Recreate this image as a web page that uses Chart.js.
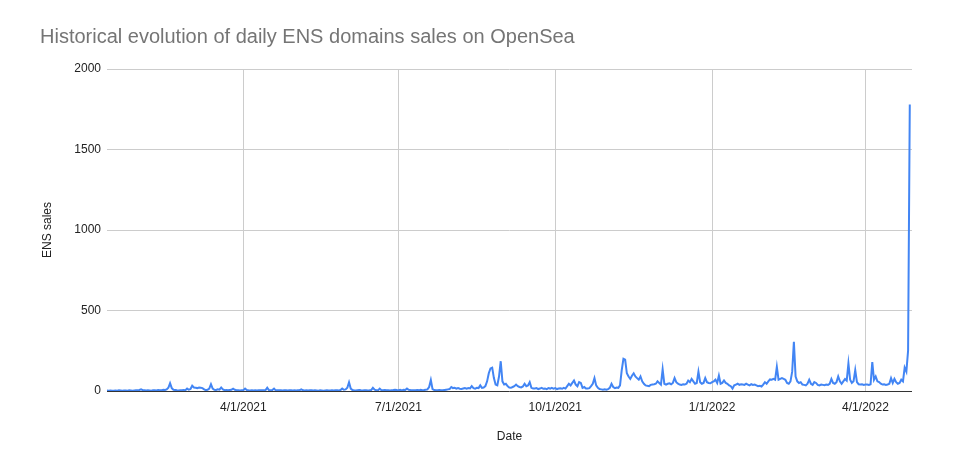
<!DOCTYPE html>
<html>
<head>
<meta charset="utf-8">
<script src="https://cdn.jsdelivr.net/npm/chart.js@4.4.1/dist/chart.umd.min.js"></script>
<style>
  html, body { margin: 0; padding: 0; background: #fff; }
  canvas { display: block; }
</style>
</head>
<body>
<canvas id="chart" width="969" height="451"></canvas>
<script>
const chartTitle = "Historical evolution of daily ENS domains sales on OpenSea"
const xAxisTitle = "Date"
const yAxisTitle = "ENS sales"

// first day of the series, then one value per day
const firstDay = "1/11/2021"
const dateTicks = ["4/1/2021", "7/1/2021", "10/1/2021", "1/1/2022", "4/1/2022"]
const salesTicks = [0, 500, 1000, 1500, 2000]

const dailySales = [
    3,
    2, 3, 2, 1, 3, 2, 4, 3, 2, 3,
    3, 2, 4, 3, 2, 3, 4, 5, 6, 10,
    5, 4, 3, 4, 3, 2, 5, 4, 3, 6,
    5, 4, 8, 6, 10, 20, 48, 18, 8, 6,
    4, 3, 5, 4, 6, 5, 15, 8, 12, 33,
    22, 20, 18, 22, 20, 18, 10, 5, 8, 15,
    42, 15, 8, 6, 10, 8, 22, 10, 5, 6,
    4, 6, 8, 15, 8, 5, 4, 3, 4, 5,
    15, 6, 4, 3, 5, 3, 4, 3, 5, 4,
    5, 4, 6, 20, 5, 4, 6, 15, 4, 5,
    4, 5, 3, 4, 5, 3, 4, 5, 3, 4,
    3, 4, 5, 10, 4, 3, 4, 3, 5, 4,
    3, 4, 3, 2, 4, 3, 2, 3, 4, 3,
    3, 4, 3, 5, 4, 3, 6, 15, 8, 10,
    20, 54, 15, 6, 4, 3, 5, 6, 4, 3,
    4, 5, 3, 4, 6, 20, 8, 5, 4, 15,
    5, 4, 6, 5, 4, 3, 5, 6, 8, 6,
    5, 7, 4, 8, 6, 15, 8, 6, 5, 4,
    5, 6, 4, 7, 5, 6, 8, 10, 25, 68,
    12, 6, 5, 4, 6, 5, 4, 6, 8, 10,
    12, 25, 18, 20, 15, 18, 14, 12, 15, 18,
    14, 18, 16, 30, 18, 15, 20, 18, 35, 20,
    22, 30, 60, 110, 140, 145, 80, 40, 35, 90,
    185, 60, 40, 45, 30, 22, 20, 25, 30, 40,
    30, 25, 22, 28, 45, 30, 35, 55, 20, 15,
    16,
    18, 12, 15, 20, 14, 16, 12, 18, 15, 20,
    14, 18, 12, 15, 17, 14, 20, 15, 30, 45,
    35, 50, 65, 40, 30, 55, 50, 20, 25, 15,
    15, 18, 30, 45, 80, 35, 20, 12, 10, 8,
    10, 8, 12, 20, 45, 25, 18, 22, 20, 35,
    130, 200, 195, 110, 90, 75, 95, 110, 90, 80,
    70, 90, 60, 45, 35, 32, 30, 38, 40, 42,
    45, 60, 50, 40, 135, 45, 40, 45, 48, 42,
    50, 80, 55, 45, 40, 38, 42, 40, 45, 65,
    55, 75, 60, 45, 50, 120, 55, 45, 50, 80,
    55, 50, 48, 55, 60, 70, 50, 95, 45, 50,
    65, 50, 45, 35, 30, 15, 35, 40, 45, 38,
    42, 40, 38, 45, 40, 35, 42, 38, 40, 35,
    30, 32, 28, 40, 55, 45, 60, 72, 70, 75,
    70, 150, 70, 75, 80, 75, 70, 50, 45, 60,
    120, 305, 90, 60, 50, 55, 40, 38, 35, 45,
    70, 45, 38, 55, 50, 38, 35, 40, 38, 36,
    40, 38, 45, 75, 50, 45, 55, 90, 60, 45,
    60, 75, 65, 172, 70, 50, 60, 130, 55, 42,
    40, 42, 38, 40, 40, 38, 42, 180, 70, 90,
    60, 55, 45, 40, 42, 38, 40, 45, 80, 50,
    75, 55, 45, 50, 70, 60, 145, 120, 250, 1780
]

function parseDay(s) {
    let [m, d, y] = s.split("/").map(Number)
    return new Date(y, m - 1, d)
}

function dayIndex(s) {
    return Math.round((parseDay(s) - parseDay(firstDay)) / 86400000)
}

const tickDays = dateTicks.map(dayIndex)
const font = { family: "'Liberation Sans', Arial, sans-serif", size: 12 }

window.onload = () => {
    new Chart(document.getElementById("chart"), {
        type: 'line',
        data: {
            datasets: [{
                label: yAxisTitle,
                data: dailySales.map((v, i) => ({ x: i, y: v })),
                borderColor: '#4285f4',
                borderWidth: 2,
                pointRadius: 0,
                tension: 0,
                fill: false
            }]
        },
        options: {
            responsive: false,
            animation: false,
            layout: { padding: { left: 40, right: 57, top: 0, bottom: 7 } },
            plugins: {
                legend: { display: false },
                tooltip: { enabled: false },
                title: {
                    display: true,
                    text: chartTitle,
                    align: 'start',
                    color: '#757575',
                    font: { family: font.family, size: 20, weight: 'normal' },
                    padding: { top: 25, bottom: 20 }
                }
            },
            scales: {
                x: {
                    type: 'linear',
                    min: 0,
                    max: dailySales.length + 0.3,
                    afterBuildTicks: s => { s.ticks = tickDays.map(v => ({ value: v })) },
                    afterFit: s => { s.height = 53 },
                    ticks: {
                        callback: (v, i) => dateTicks[i],
                        color: '#222',
                        font: font,
                        padding: 9,
                        maxRotation: 0,
                        autoSkip: false
                    },
                    grid: { color: '#cccccc', drawTicks: false },
                    border: { display: false },
                    title: { display: true, text: xAxisTitle, color: '#222', font: font, padding: 0 }
                },
                y: {
                    min: salesTicks[0],
                    max: salesTicks[salesTicks.length - 1],
                    afterFit: s => { s.width = 67 },
                    ticks: {
                        stepSize: salesTicks[1] - salesTicks[0],
                        callback: v => String(v),
                        color: '#222',
                        font: font,
                        padding: 6
                    },
                    grid: {
                        color: c => c.tick.value === 0 ? '#333333' : '#cccccc',
                        drawTicks: false
                    },
                    border: { display: false },
                    title: { display: true, text: yAxisTitle, color: '#222', font: font, padding: 0 }
                }
            }
        }
    })
}
</script>
</body>
</html>
